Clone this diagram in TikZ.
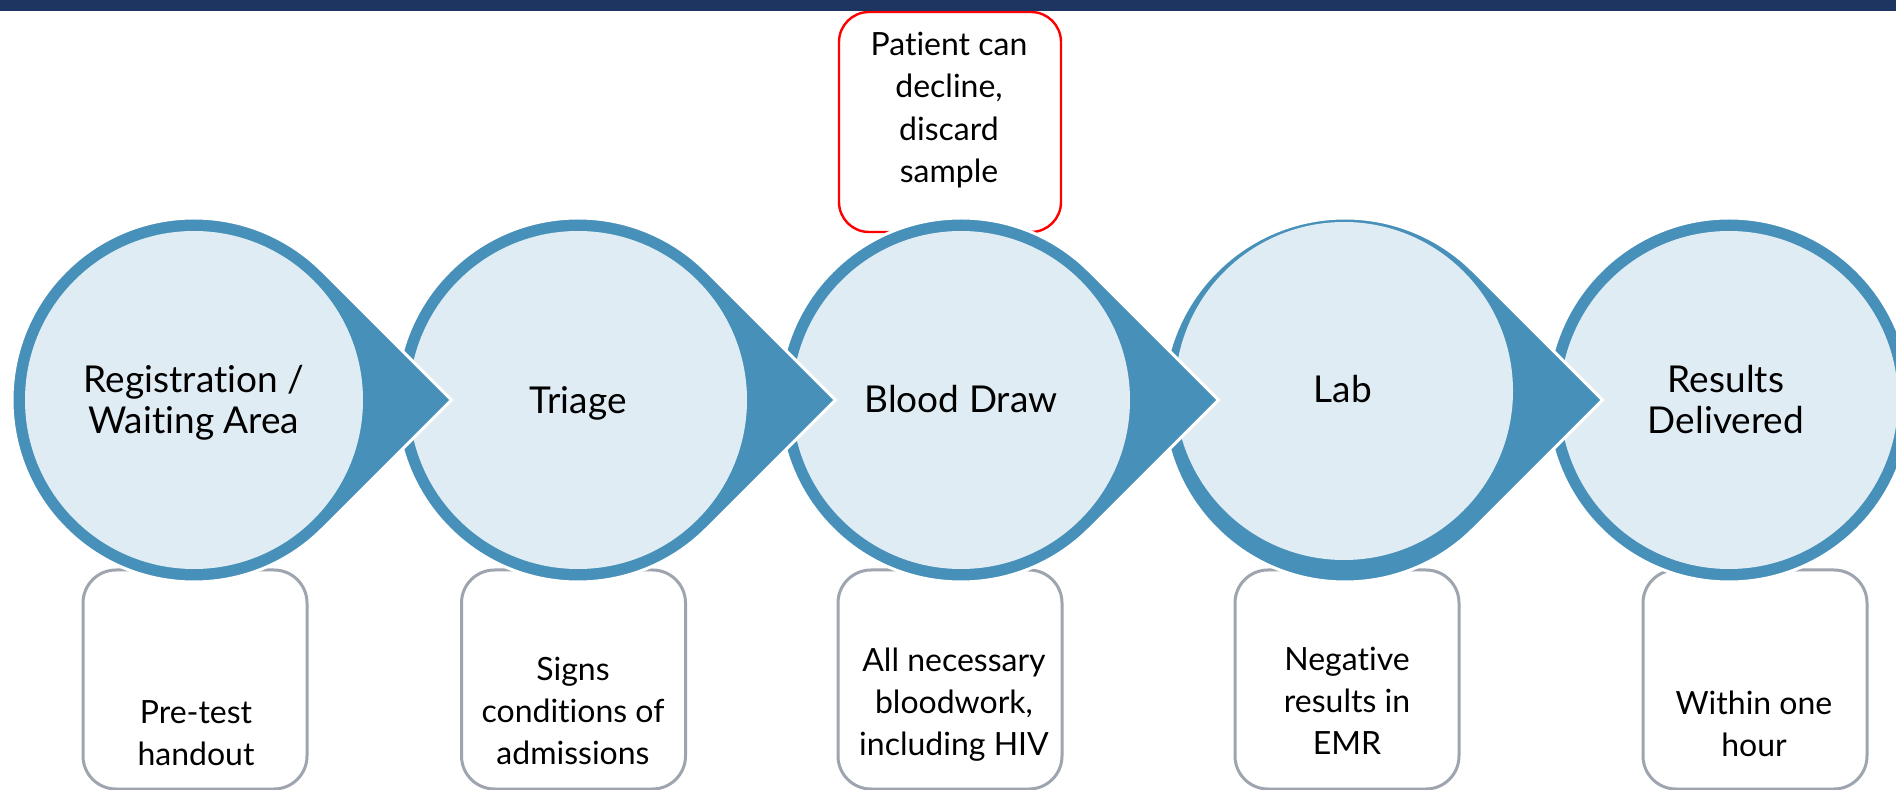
\documentclass[tikz,border=0pt]{standalone}
\usepackage{fontspec}
\setmainfont{Lato}[Ligatures=NoCommon]
\definecolor{ringblue}{HTML}{4790B9}
\definecolor{diskfill}{HTML}{E0ECF3}
\definecolor{boxgray}{HTML}{9EA5AE}
\definecolor{barnavy}{HTML}{1E3461}
\begin{document}
\begin{tikzpicture}[x=0.5pt,y=0.5pt,
  stage/.style={fill=ringblue, draw=white, line width=1.5pt, line join=miter},
  innerdisk/.style={fill=diskfill},
  notebox/.style={draw=boxgray, line width=1.5pt, rounded corners=16.5pt, fill=white, inner sep=0pt, minimum width=112pt, minimum height=109.5pt},
  warnbox/.style={draw=red, line width=1.2pt, rounded corners=15pt, fill=white, inner sep=0pt, minimum width=111pt, minimum height=110pt},
  steplabel/.style={font=\fontsize{18.5}{20.5}\selectfont, align=center, inner sep=0pt, anchor=north},
  notelabel/.style={font=\fontsize{16}{21}\selectfont, align=center, inner sep=0pt, anchor=north},
  warnlabel/.style={font=\fontsize{16}{21.25}\selectfont, align=center, inner sep=0pt, anchor=north},
]
\useasboundingbox (0,0) rectangle (1896,-790);
\clip (0,0) rectangle (1896,-790);
\fill[white] (0,0) rectangle (1896,-790);

% note boxes (behind the circles)
\node[warnbox] (warn) at (950,-122) {};
\node[notebox] (b1) at (195,-679.5) {};
\node[notebox] (b2) at (573.5,-679.5) {};
\node[notebox] (b3) at (950,-679.5) {};
\node[notebox] (b4) at (1347,-679.5) {};
\node[notebox] (b5) at (1755,-679.5) {};

% top bar
\fill[barnavy] (0,0) rectangle (1896,-11);

% stage centres and arrow tips
\coordinate (c1) at (194,-400);
\coordinate (c2) at (578,-400);
\coordinate (c3) at (961,-400);
\coordinate (c4) at (1345,-400);
\coordinate (c5) at (1729,-400);
\coordinate (t1) at (451.4,-400);
\coordinate (t2) at (835.4,-400);
\coordinate (t3) at (1218.4,-400);
\coordinate (t4) at (1602.4,-400);

% stages drawn right to left so each arrow lies over the next circle
\path[stage] (c5) circle[radius=182];
\fill[innerdisk] (c5) circle[radius=169];

\path[stage] (t4) -- ([shift={(45:182)}]c4) arc[start angle=45, end angle=315, radius=182] -- cycle;
\fill[innerdisk] (1344,-391) circle[radius=169];

\path[stage] (t3) -- ([shift={(45:182)}]c3) arc[start angle=45, end angle=315, radius=182] -- cycle;
\fill[innerdisk] (c3) circle[radius=169];

\path[stage] (t2) -- ([shift={(45:182)}]c2) arc[start angle=45, end angle=315, radius=182] -- cycle;
\fill[innerdisk] (c2) circle[radius=169];

\path[stage] (t1) -- ([shift={(45:182)}]c1) arc[start angle=45, end angle=315, radius=182] -- cycle;
\fill[innerdisk] (c1) circle[radius=169];

% stage labels
\node[steplabel] (s1) at (194,-363.3) {\strut Registration /\\\strut Waiting Area};
\node[steplabel] (s2) at (578,-384) {\strut Triage};
\node[steplabel] (s3) at (961,-383.3) {\strut Blood Draw};
\node[steplabel] (s4) at (1343,-373) {\strut Lab};
\node[steplabel] (s5) at (1726,-363.3) {\strut Results\\\strut Delivered};

% note texts
\node[warnlabel] (wt) at (949,-25.25) {\strut Patient can\\\strut decline,\\\strut discard\\\strut sample};
\node[notelabel] (n1) at (196,-693.6) {\strut Pre-test\\\strut handout};
\node[notelabel] (n2) at (573,-650.6) {\strut Signs\\\strut conditions of\\\strut admissions};
\node[notelabel] (n3) at (954,-641.6) {\strut All necessary\\\strut bloodwork,\\\strut including HIV};
\node[notelabel] (n4) at (1347,-640.6) {\strut Negative\\\strut results in\\\strut EMR};
\node[notelabel] (n5) at (1754,-684.6) {\strut Within one\\\strut hour};
\end{tikzpicture}
\end{document}
